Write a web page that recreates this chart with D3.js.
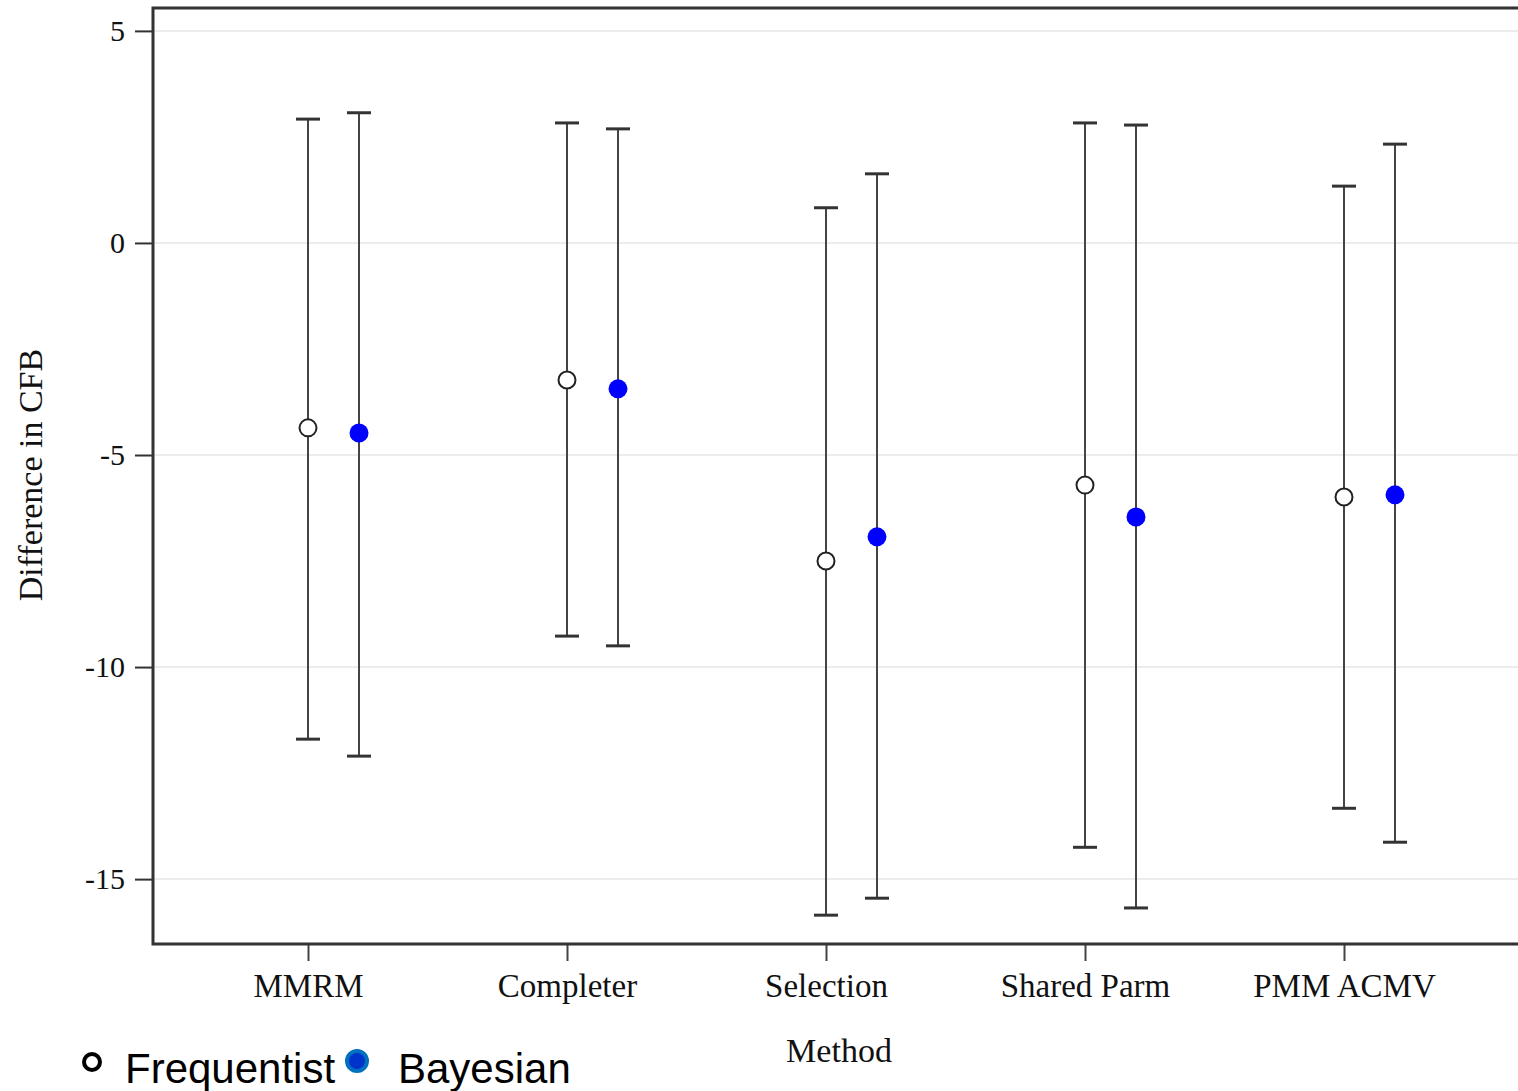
<!DOCTYPE html>
<html>
<head>
<meta charset="utf-8">
<script src="https://cdn.jsdelivr.net/npm/d3@7"></script>
<style>
  body { margin: 0; background: #fff; }
  .tick text { font-family: "Liberation Serif", serif; font-size: 30px; fill: #111; }
  .lab { font-family: "Liberation Serif", serif; font-size: 34px; fill: #111; }
  .leg { font-family: "Liberation Sans", Arial, sans-serif; font-size: 42px; fill: #000; }
</style>
</head>
<body>
<div id="chart"></div>
<script>
// data
var methods = ["MMRM", "Completer", "Selection", "Shared Parm", "PMM ACMV"];
var series = ["Frequentist", "Bayesian"];
var freqEst = [-4.36, -3.23, -7.50, -5.71, -5.99];
var freqLo = [-11.70, -9.27, -15.85, -14.25, -13.33];
var freqHi = [2.92, 2.83, 0.83, 2.83, 1.34];
var bayesEst = [-4.48, -3.44, -6.93, -6.46, -5.94];
var bayesLo = [-12.10, -9.50, -15.45, -15.68, -14.13];
var bayesHi = [3.07, 2.69, 1.63, 2.78, 2.33];
var yTicks = [5, 0, -5, -10, -15];

var width = 1518;
var height = 1091;
var mLeft = 153, mTop = 8, mBottom = 944;

var svg = d3.select("#chart").append("svg")
  .attr("width", width)
  .attr("height", height);

var y = d3.scaleLinear().domain([-16.53, 5.54]).range([mBottom, mTop]);
var x0 = d3.scalePoint().domain(methods).range([308, 1344]);
var x1 = d3.scalePoint().domain(series).range([0, 51]);

// gridlines
svg.append("g").selectAll("line").data(yTicks).enter()
  .append("line")
  .attr("x1", mLeft).attr("x2", width)
  .attr("y1", function(d) { return y(d); })
  .attr("y2", function(d) { return y(d); })
  .attr("stroke", "#ececec")
  .attr("stroke-width", 2);

// axes
var yAxis = d3.axisLeft(y)
  .tickValues(yTicks)
  .tickFormat(function(d) { return String(d); })
  .tickSize(18)
  .tickPadding(10);
svg.append("g")
  .attr("transform", "translate(" + mLeft + ",0)")
  .call(yAxis)
  .call(function(g) { g.select(".domain").remove(); })
  .call(function(g) { g.selectAll(".tick line").attr("stroke", "#333").attr("stroke-width", 2); });

var xAxis = d3.axisBottom(x0).tickSize(17).tickPadding(13);
svg.append("g")
  .attr("transform", "translate(0," + mBottom + ")")
  .call(xAxis)
  .call(function(g) { g.select(".domain").remove(); })
  .call(function(g) { g.selectAll(".tick line").attr("stroke", "#444").attr("stroke-width", 2); })
  .call(function(g) { g.selectAll(".tick text").style("font-size", "33px"); });

// frame (right side runs off the picture)
svg.append("path")
  .attr("d", "M" + (width + 5) + "," + mTop + "H" + mLeft + "V" + mBottom + "H" + (width + 5))
  .attr("fill", "none")
  .attr("stroke", "#333")
  .attr("stroke-width", 3);

// rows for the error bars
var rows = [];
methods.forEach(function(m, i) {
  rows.push({ m: m, s: "Frequentist", est: freqEst[i], lo: freqLo[i], hi: freqHi[i] });
  rows.push({ m: m, s: "Bayesian", est: bayesEst[i], lo: bayesLo[i], hi: bayesHi[i] });
});
function xp(d) { return x0(d.m) + x1(d.s); }

var bars = svg.append("g").selectAll("g").data(rows).enter().append("g");
bars.append("line")
  .attr("x1", xp).attr("x2", xp)
  .attr("y1", function(d) { return y(d.lo); })
  .attr("y2", function(d) { return y(d.hi); })
  .attr("stroke", "#444")
  .attr("stroke-width", 2);
bars.selectAll(".cap")
  .data(function(d) { return [{ x: xp(d), v: d.lo }, { x: xp(d), v: d.hi }]; })
  .enter().append("line")
  .attr("class", "cap")
  .attr("x1", function(d) { return d.x - 12; })
  .attr("x2", function(d) { return d.x + 12; })
  .attr("y1", function(d) { return y(d.v); })
  .attr("y2", function(d) { return y(d.v); })
  .attr("stroke", "#333")
  .attr("stroke-width", 3);
bars.append("circle")
  .attr("cx", xp)
  .attr("cy", function(d) { return y(d.est); })
  .attr("r", function(d) { return d.s === "Bayesian" ? 9.5 : 8.5; })
  .attr("fill", function(d) { return d.s === "Bayesian" ? "#0000ff" : "#fff"; })
  .attr("stroke", function(d) { return d.s === "Bayesian" ? "none" : "#222"; })
  .attr("stroke-width", 2);

// axis titles
svg.append("text")
  .attr("class", "lab")
  .attr("text-anchor", "middle")
  .attr("x", 839).attr("y", 1062)
  .text("Method");
svg.append("text")
  .attr("class", "lab")
  .attr("text-anchor", "middle")
  .attr("transform", "translate(42,475)rotate(-90)")
  .text("Difference in CFB");

// legend
svg.append("circle")
  .attr("cx", 92).attr("cy", 1062).attr("r", 8)
  .attr("fill", "#fff").attr("stroke", "#000").attr("stroke-width", 4);
svg.append("text").attr("class", "leg").attr("x", 125).attr("y", 1083).text("Frequentist");
svg.append("circle")
  .attr("cx", 357).attr("cy", 1061).attr("r", 10)
  .attr("fill", "#0033cc").attr("stroke", "#0070c0").attr("stroke-width", 4);
svg.append("text").attr("class", "leg").attr("x", 398).attr("y", 1083).text("Bayesian");
</script>
</body>
</html>
